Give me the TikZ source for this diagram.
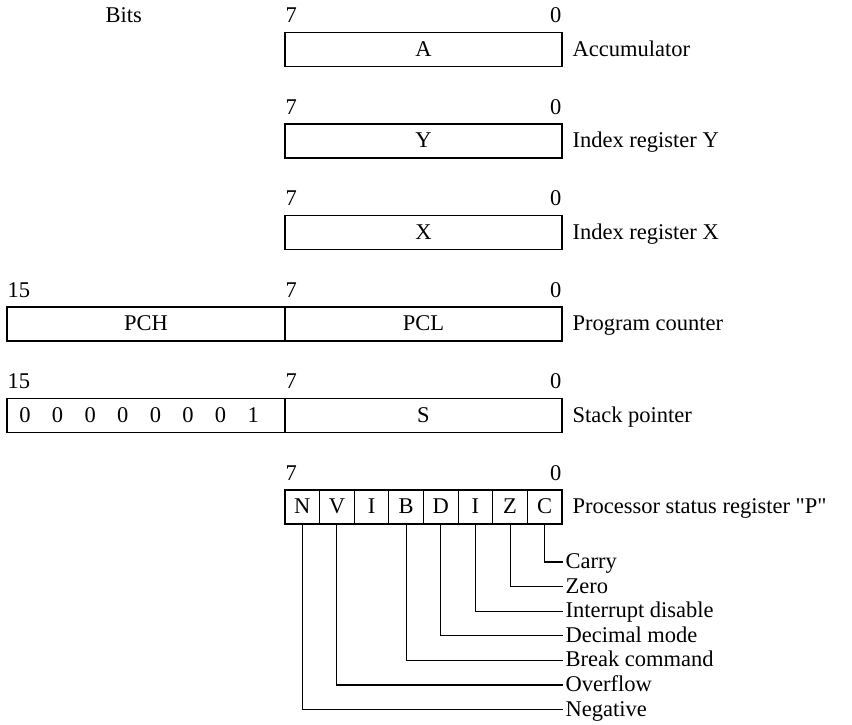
\documentclass[tikz,border=0pt]{standalone}
\usepackage{fontspec}
\setmainfont{Liberation Serif}
\usetikzlibrary{positioning}

\begin{document}
\begin{tikzpicture}[
    x=1pt, y=-1pt,
    node distance=57.5pt and 8pt,
    every node/.style={font=\fontsize{22.5}{26}\selectfont},
    line width=1.1pt,
    reg/.style={draw, minimum height=34pt, inner sep=0pt, outer sep=0pt,
                text height=13pt, text depth=0pt},
    flagbox/.style={reg, minimum width=34.625pt},
    bitno/.style={inner sep=0pt, yshift=10pt},
    reglabel/.style={inner sep=2pt, text height=13pt, text depth=0pt},
    flaglabel/.style={reglabel, anchor=west}
]
\useasboundingbox (0,0) rectangle (852,724);

% registers
\node[reg, minimum width=277pt] (acc) at (423.5,49.5) {A};
\node[reg, minimum width=277pt, below=of acc] (iry) {Y};
\node[reg, minimum width=277pt, below=of iry] (irx) {X};
\node[reg, minimum width=277pt, below=of irx] (pcl) {PCL};
\node[reg, minimum width=278pt, left=0pt of pcl] (pch) {PCH};
\node[reg, minimum width=277pt, below=of pcl] (spl) {S};
\node[reg, minimum width=278pt, left=0pt of spl] (sph) {};
\foreach \d [count=\k from 0] in {0,0,0,0,0,0,0,1}
    \node[reglabel, inner sep=0pt] (sp\k) at ([xshift=18pt+32.6pt*\k]sph.west) {\d};

% status flags
\node[flagbox, below=of spl.south west, anchor=north west] (fN) {N};
\foreach \t/\n/\p in {V/fV/fN, I/fI/fV, B/fB/fI, D/fD/fB, I/fIi/fD, Z/fZ/fIi, C/fC/fZ}
    \node[flagbox, right=0pt of \p] (\n) {\t};

% bit numbers
\node[anchor=base west, inner sep=0pt] (bits) at (105,22) {Bits};
\foreach \r in {acc, iry, irx, pcl, spl}{
    \node[bitno, anchor=base west] (\r7) at (\r.north west) {7};
    \node[bitno, anchor=base east] (\r0) at (\r.north east) {0};
}
\node[bitno, anchor=base west] (pch15) at (pch.north west) {15};
\node[bitno, anchor=base west] (sph15) at (sph.north west) {15};
\node[bitno, anchor=base west] (fN7) at (fN.north west) {7};
\node[bitno, anchor=base east] (fC0) at (fC.north east) {0};

% register names
\node[reglabel, right=8pt of acc] (lacc) {Accumulator};
\node[reglabel, right=8pt of iry] (liry) {Index register Y};
\node[reglabel, right=8pt of irx] (lirx) {Index register X};
\node[reglabel, right=8pt of pcl] (lpc) {Program counter};
\node[reglabel, right=8pt of spl] (lsp) {Stack pointer};
\node[reglabel, right=8pt of fC] (lp) {Processor status register \textquotedbl P\textquotedbl};

% flag names
\node[flaglabel] (lcarry) at (563,562) {Carry};
\node[flaglabel] (lzero) at (563,586.6) {Zero};
\node[flaglabel] (lint) at (563,611.2) {Interrupt disable};
\node[flaglabel] (ldec) at (563,635.8) {Decimal mode};
\node[flaglabel] (lbrk) at (563,660.4) {Break command};
\node[flaglabel] (lovf) at (563,685) {Overflow};
\node[flaglabel] (lneg) at (563,709.6) {Negative};

\draw (fC.south) |- (lcarry.west);
\draw (fZ.south) |- (lzero.west);
\draw (fIi.south) |- (lint.west);
\draw (fD.south) |- (ldec.west);
\draw (fB.south) |- (lbrk.west);
\draw (fV.south) |- (lovf.west);
\draw (fN.south) |- (lneg.west);
\end{tikzpicture}
\end{document}
